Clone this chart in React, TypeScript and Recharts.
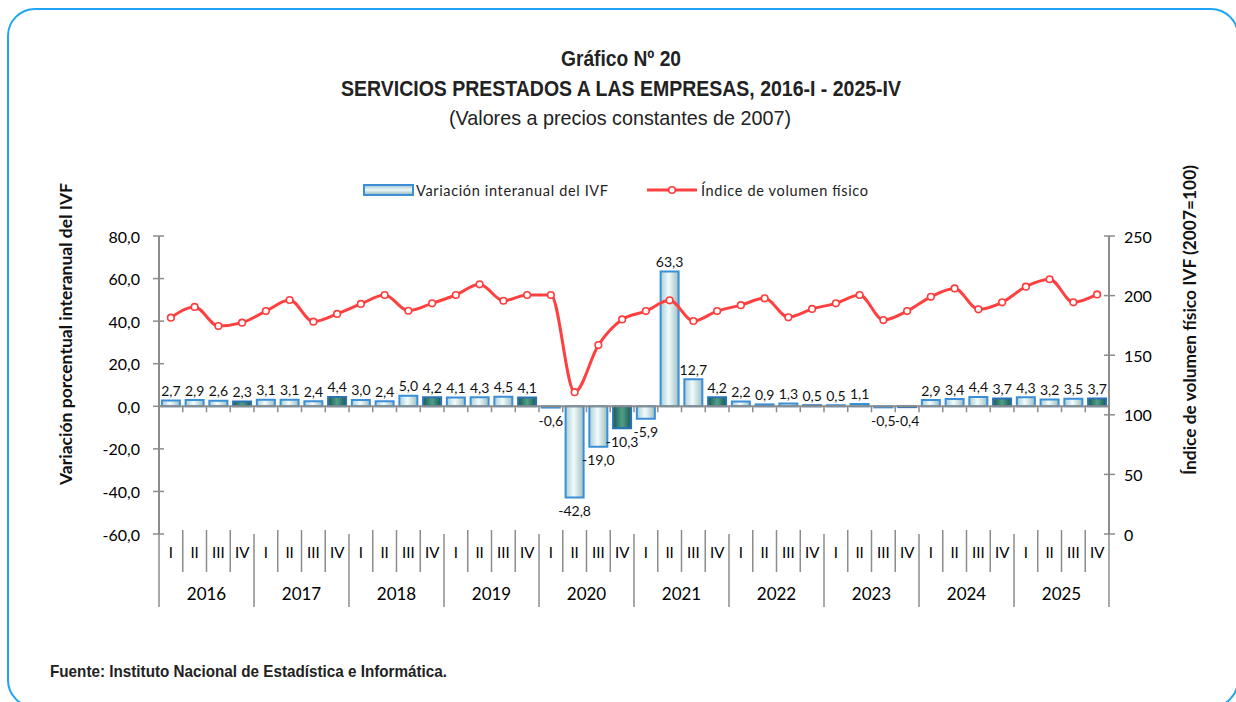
import React from 'react';
import { ComposedChart, Bar, Line, XAxis, YAxis, ReferenceLine, Cell, LabelList } from 'recharts';

const years = ['2016', '2017', '2018', '2019', '2020', '2021', '2022', '2023', '2024', '2025'];
const quarters = ['I', 'II', 'III', 'IV'];

const variation = [
  2.7, 2.9, 2.6, 2.3,
  3.1, 3.1, 2.4, 4.4,
  3.0, 2.4, 5.0, 4.2,
  4.1, 4.3, 4.5, 4.1,
  -0.6, -42.8, -19.0, -10.3,
  -5.9, 63.3, 12.7, 4.2,
  2.2, 0.9, 1.3, 0.5,
  0.5, 1.1, -0.5, -0.4,
  2.9, 3.4, 4.4, 3.7,
  4.3, 3.2, 3.5, 3.7,
];

const volumeIndex = [
  181.5, 190.5, 174.5, 177.3,
  187.0, 196.3, 178.1, 184.6,
  193.0, 200.5, 187.3, 193.5,
  200.5, 209.5, 195.7, 200.5,
  200.5, 119.0, 158.5, 180.0,
  187.0, 196.0, 178.7, 187.0,
  192.0, 197.7, 181.8, 188.8,
  193.5, 200.5, 179.5, 187.0,
  199.0, 206.0, 188.5, 194.4,
  207.5, 213.7, 194.4, 201.0,
];

const leftTicks = [-60, -40, -20, 0, 20, 40, 60, 80];
const rightTicks = [0, 50, 100, 150, 200, 250];

const data = variation.map((v, i) => ({
  key: `${years[Math.floor(i / 4)]}-${quarters[i % 4]}`,
  year: years[Math.floor(i / 4)],
  q: quarters[i % 4],
  variation: v,
  ivf: volumeIndex[i],
}));

const W = 1236;
const H = 702;
const M = { top: 236, right: 67, bottom: 88, left: 99 };
const YW = 60;
const plotW = W - M.left - M.right - 2 * YW;
const bw = plotW / data.length;

const AXIS_GRAY = '#8c8c8c';
const LABEL_FONT = 'Lato, "Open Sans", sans-serif';
const NARROW = '"Liberation Sans Narrow", "Arial Narrow", "Liberation Sans", Arial, sans-serif';

const fmt1 = (v: number) => v.toFixed(1).replace('.', ',');

const QuarterTick = (props: any) => {
  const { x, y, index } = props;
  const q = data[index].q;
  const qi = index % 4;
  const left = x - bw / 2;
  const right = x + bw / 2;
  return (
    <g>
      <line x1={left} x2={left} y1={qi === 0 ? y : y - 4} y2={qi === 0 ? y + 73 : y + 38} stroke={AXIS_GRAY} strokeWidth={1.5} />
      {index === data.length - 1 && (
        <line x1={right} x2={right} y1={y} y2={y + 73} stroke={AXIS_GRAY} strokeWidth={1.5} />
      )}
      <text x={x} y={y + 18} textAnchor="middle" dominantBaseline="central" fontSize={15} fontFamily={LABEL_FONT} fill="#000">
        {q}
      </text>
      {qi === 1 && (
        <text x={right} y={y + 59} textAnchor="middle" dominantBaseline="central" fontSize={17} fontFamily={LABEL_FONT} fill="#000">
          {data[index].year}
        </text>
      )}
    </g>
  );
};

const LeftTick = (props: any) => {
  const { x, y, payload } = props;
  return (
    <g>
      <line x1={x - 6} x2={x + 5} y1={y} y2={y} stroke={AXIS_GRAY} strokeWidth={1.5} />
      <text x={x - 19} y={y} textAnchor="end" dominantBaseline="central" fontSize={16} fontFamily={LABEL_FONT} fill="#000">
        {fmt1(payload.value)}
      </text>
    </g>
  );
};

const RightTick = (props: any) => {
  const { x, y, payload } = props;
  return (
    <g>
      <line x1={x - 5} x2={x + 6} y1={y} y2={y} stroke={AXIS_GRAY} strokeWidth={1.5} />
      <text x={x + 15} y={y} textAnchor="start" dominantBaseline="central" fontSize={16} fontFamily={LABEL_FONT} fill="#000">
        {payload.value}
      </text>
    </g>
  );
};

const ZeroLine = (props: any) => {
  const { x1, x2, y1 } = props;
  const n = data.length;
  const step = (x2 - x1) / n;
  const marks = [];
  for (let i = 0; i <= n; i++) {
    marks.push(
      <line key={i} x1={x1 + i * step} x2={x1 + i * step} y1={y1} y2={y1 + 6} stroke={AXIS_GRAY} strokeWidth={1.5} />
    );
  }
  return (
    <g>
      <line x1={x1} x2={x2} y1={y1} y2={y1} stroke={AXIS_GRAY} strokeWidth={2} />
      {marks}
    </g>
  );
};

const BarLabel = (props: any) => {
  const { x, y, width, height, value } = props;
  const top = Math.min(y, y + height);
  const bottom = Math.max(y, y + height);
  const cx = x + width / 2;
  const ty = value >= 0 ? top - 10 : bottom + 13;
  return (
    <text x={cx} y={ty} textAnchor="middle" dominantBaseline="central" fontSize={14} fontFamily={LABEL_FONT} fill="#111">
      {fmt1(value)}
    </text>
  );
};

const LineDot = (props: any) => {
  const { cx, cy } = props;
  if (cx == null || cy == null) return null;
  return <circle cx={cx} cy={cy} r={3.3} fill="#fff" stroke="#ff3b3b" strokeWidth={1.6} />;
};

export default function App() {
  return (
    <div style={{ position: 'fixed', left: 0, top: 0, width: W, height: H, overflow: 'hidden', background: '#fff' }}>
      <div
        style={{
          position: 'absolute',
          left: 7,
          top: 8,
          width: 1232,
          height: 700,
          border: '2.5px solid #1ea5f5',
          borderRadius: 28,
          boxSizing: 'border-box',
        }}
      />
      <div style={{ position: 'absolute', left: 0, top: 0 }}>
        <ComposedChart width={W} height={H} data={data} margin={M} barCategoryGap="12%">
          <defs>
            <linearGradient id="lightBar" x1="0" y1="0" x2="1" y2="0">
              <stop offset="0%" stopColor="#a9cfd6" />
              <stop offset="45%" stopColor="#f2fbfb" />
              <stop offset="100%" stopColor="#9dbfc2" />
            </linearGradient>
            <linearGradient id="darkBar" x1="0" y1="0" x2="1" y2="0">
              <stop offset="0%" stopColor="#1b5a52" />
              <stop offset="50%" stopColor="#4e9f88" />
              <stop offset="100%" stopColor="#1b5a52" />
            </linearGradient>
          </defs>
          <XAxis
            dataKey="key"
            xAxisId="x"
            axisLine={false}
            tickLine={false}
            tickSize={0}
            tickMargin={0}
            interval={0}
            height={80}
            tick={<QuarterTick />}
          />
          <YAxis
            yAxisId="left"
            orientation="left"
            domain={[-60, 80]}
            ticks={leftTicks}
            width={YW}
            axisLine={{ stroke: AXIS_GRAY, strokeWidth: 2 }}
            tickLine={false}
            tickSize={0}
            tickMargin={0}
            tick={<LeftTick />}
            allowDataOverflow
          />
          <YAxis
            yAxisId="right"
            orientation="right"
            domain={[0, 250]}
            ticks={rightTicks}
            width={YW}
            axisLine={{ stroke: AXIS_GRAY, strokeWidth: 2 }}
            tickLine={false}
            tickSize={0}
            tickMargin={0}
            tick={<RightTick />}
            allowDataOverflow
          />
          <ReferenceLine yAxisId="left" xAxisId="x" y={0} shape={<ZeroLine />} />
          <Bar dataKey="variation" xAxisId="x" yAxisId="left" stroke="#3a8fd6" strokeWidth={2} isAnimationActive={false}>
            {data.map((d, i) => (
              <Cell key={i} fill={d.q === 'IV' ? 'url(#darkBar)' : 'url(#lightBar)'} stroke={d.q === 'IV' ? '#2a72b8' : '#3a8fd6'} />
            ))}
            <LabelList dataKey="variation" content={<BarLabel />} />
          </Bar>
          <Line
            dataKey="ivf"
            xAxisId="x"
            yAxisId="right"
            type="monotone"
            stroke="#ff4040"
            strokeWidth={3}
            dot={<LineDot />}
            activeDot={false}
            isAnimationActive={false}
          />
        </ComposedChart>
      </div>

      <svg width={W} height={H} style={{ position: 'absolute', left: 0, top: 0, pointerEvents: 'none' }}>
        <text x={621} y={58} textAnchor="middle" dominantBaseline="central" fontFamily={NARROW} fontWeight="bold" fontSize={22} fill="#222" textLength={120} lengthAdjust="spacingAndGlyphs">
          Gráfico Nº 20
        </text>
        <text x={621} y={88} textAnchor="middle" dominantBaseline="central" fontFamily={NARROW} fontWeight="bold" fontSize={22} fill="#222" textLength={560} lengthAdjust="spacingAndGlyphs">
          SERVICIOS PRESTADOS A LAS EMPRESAS, 2016-I - 2025-IV
        </text>
        <text x={620} y={117} textAnchor="middle" dominantBaseline="central" fontFamily={NARROW} fontSize={21} fill="#222" textLength={342} lengthAdjust="spacingAndGlyphs">
          (Valores a precios constantes de 2007)
        </text>
        <text
          x={65}
          y={334}
          transform="rotate(-90 65 334)"
          textAnchor="middle"
          dominantBaseline="central"
          fontFamily={LABEL_FONT}
          fontWeight="bold"
          fontSize={17}
          fill="#111"
          textLength={302}
          lengthAdjust="spacingAndGlyphs"
        >
          Variación porcentual interanual del IVF
        </text>
        <text
          x={1190}
          y={320}
          transform="rotate(-90 1190 320)"
          textAnchor="middle"
          dominantBaseline="central"
          fontFamily={LABEL_FONT}
          fontWeight="bold"
          fontSize={16.5}
          fill="#111"
          textLength={310}
          lengthAdjust="spacingAndGlyphs"
        >
          Índice de volumen físico IVF (2007=100)
        </text>
        <defs>
          <linearGradient id="legBar" x1="0" y1="0" x2="0" y2="1">
            <stop offset="0%" stopColor="#9fc6d0" />
            <stop offset="50%" stopColor="#eef8f8" />
            <stop offset="100%" stopColor="#8fb3b8" />
          </linearGradient>
        </defs>
        <rect x={364} y={185} width={49} height={10} fill="url(#legBar)" stroke="#3a8fd6" strokeWidth={2} />
        <text x={416} y={190} dominantBaseline="central" fontFamily={LABEL_FONT} fontSize={14.5} fill="#222" textLength={192} lengthAdjust="spacing">
          Variación interanual del IVF
        </text>
        <line x1={647} x2={697} y1={190} y2={190} stroke="#ff4040" strokeWidth={3} />
        <circle cx={672} cy={190} r={3.3} fill="#fff" stroke="#ff3b3b" strokeWidth={1.6} />
        <text x={701} y={190} dominantBaseline="central" fontFamily={LABEL_FONT} fontSize={14.5} fill="#222" textLength={167} lengthAdjust="spacing">
          Índice de volumen físico
        </text>
        <text x={50} y={671} dominantBaseline="central" fontFamily={NARROW} fontWeight="bold" fontSize={17} fill="#222" textLength={397} lengthAdjust="spacingAndGlyphs">
          Fuente: Instituto Nacional de Estadística e Informática.
        </text>
      </svg>
    </div>
  );
}
